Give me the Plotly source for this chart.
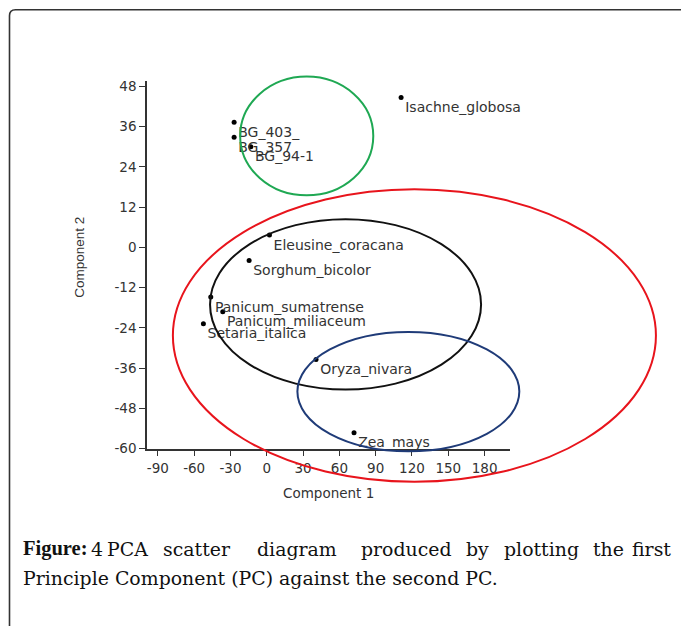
import plotly.graph_objects as go

W, H = 681, 626

# ---- data ----
species = ["Isachne_globosa", "BG_403_", "BG_357", "BG_94-1", "Eleusine_coracana",
           "Sorghum_bicolor", "Panicum_sumatrense", "Panicum_miliaceum",
           "Setaria_italica", "Oryza_nivara", "Zea_mays"]
pc1 = [111.0, -27.0, -27.0, -13.2, 2.2, -14.6, -46.3, -36.4, -52.4, 40.7, 72.1]
pc2 = [44.7, 37.3, 32.8, 30.0, 3.7, -3.9, -14.8, -19.2, -22.8, -33.4, -55.3]

x_ticks = [-90, -60, -30, 0, 30, 60, 90, 120, 150, 180]
x_tick_labels = ["-90", "-60", "-30", "0", "30", "60", "90", "120", "150", "180"]
y_ticks = [-60, -48, -36, -24, -12, 0, 12, 24, 36, 48]
y_tick_labels = ["-60", "-48", "-36", "-24", "-12", "0", "12", "24", "36", "48"]

# cluster ellipses (centre / semi-axes in data units)
ell_color = ["#1FA853", "#E8141C", "#111111", "#1F3B78"]
ell_cx = [33.0, 122.0, 65.1, 117.0]
ell_cy = [33.2, -26.3, -17.0, -43.0]
ell_rx = [55.0, 199.6, 112.0, 91.7]
ell_ry = [17.7, 43.6, 25.4, 17.8]

caption_words = ["4", "PCA", "scatter", "diagram", "produced", "by", "plotting", "the"]
caption_word_cx = [97, 127.5, 196.5, 297, 406.5, 477, 541, 608]
caption_line2 = "Principle Component (PC) against the second PC."

# ---- layout geometry (target pixels) ----
x_range = [-99, 201]
y_range = [-60, 49.6]
VS, VO = 0.9806, 4.2   # observed vertical mapping of the renderer


def vy(py):
    """target screen pixel -> figure pixel (vertical)"""
    return (py - VO) / VS


px_l, px_r = 147, 510
py_t, py_b = vy(82), vy(449)


def fx(px):
    return px / W


def fy(py):
    return 1 - vy(py) / H


def fyf(py_fig):
    return 1 - py_fig / H


sx = (px_r - px_l) / (x_range[1] - x_range[0])
sy = (py_b - py_t) / (y_range[1] - y_range[0])
x2_range = [x_range[0] - px_l / sx, x_range[0] + (W - px_l) / sx]
y2_range = [y_range[0] - (H - py_b) / sy, y_range[1] + py_t / sy]

fig = go.Figure()

fig.add_trace(go.Scatter(
    x=pc1, y=pc2, mode="markers+text", text=species,
    textposition="bottom right",
    marker=dict(color="black", size=5),
    textfont=dict(family="DejaVu Sans", size=14, color="#333333"),
    cliponaxis=False, showlegend=False, hoverinfo="text",
    xaxis="x", yaxis="y"))

# invisible full-page subplot carrying the ellipses (same scale)
fig.add_trace(go.Scatter(x=[x2_range[0]], y=[y2_range[0]], mode="markers",
                         marker=dict(opacity=0), showlegend=False,
                         hoverinfo="skip", xaxis="x2", yaxis="y2"))

shapes = []
for c, cx, cy, rx, ry in zip(ell_color, ell_cx, ell_cy, ell_rx, ell_ry):
    shapes.append(dict(type="circle", xref="x2", yref="y2",
                       x0=cx - rx, x1=cx + rx, y0=cy - ry, y1=cy + ry,
                       line=dict(color=c, width=2)))

# page frame (rounded top-left corner, runs off the right and bottom)
bx, by, r = 9.5, 11, 6
path = (f"M {fx(bx)},{fy(H + 30)} L {fx(bx)},{fy(by + r)} "
        f"Q {fx(bx)},{fy(by)} {fx(bx + r)},{fy(by)} L {fx(W + 20)},{fy(by)}")
shapes.append(dict(type="path", xref="paper", yref="paper", path=path,
                   line=dict(color="#333333", width=1.6)))

ann = []
ann.append(dict(text="Component 1", x=fx(328), y=fy(493), xref="paper", yref="paper",
                showarrow=False, xanchor="center", yanchor="middle",
                font=dict(family="DejaVu Sans", size=13.5, color="#333333")))
ann.append(dict(text="Component 2", x=fx(79.5), y=fy(258), xref="paper", yref="paper",
                showarrow=False, xanchor="center", yanchor="middle", textangle=-90,
                font=dict(family="Liberation Sans", size=13.5, color="#333333")))

cap_font = dict(family="DejaVu Serif", size=18.9, color="#111111")
line1_y, line2_y = 549, 578
ann.append(dict(text="<b>Figure:</b>", x=fx(21), y=fy(line1_y), xref="paper", yref="paper",
                showarrow=False, xanchor="left", yanchor="middle",
                font=dict(family="Liberation Serif", size=20.5, color="#111111")))
for w, cx in zip(caption_words, caption_word_cx):
    ann.append(dict(text=w, x=fx(cx), y=fy(line1_y), xref="paper", yref="paper",
                    showarrow=False, xanchor="center", yanchor="middle", font=cap_font))
ann.append(dict(text="first", x=fx(673), y=fy(line1_y), xref="paper", yref="paper",
                showarrow=False, xanchor="right", yanchor="middle", font=cap_font))
ann.append(dict(text=caption_line2, x=fx(21), y=fy(line2_y), xref="paper", yref="paper",
                showarrow=False, xanchor="left", yanchor="middle", font=cap_font))

axis_common = dict(showgrid=False, zeroline=False, showline=True, linecolor="#333333",
                   linewidth=1.6, ticks="outside", ticklen=6, tickwidth=1.4,
                   tickcolor="#333333", mirror=False, tickmode="array",
                   tickfont=dict(family="DejaVu Sans", size=13.5, color="#333333"))

fig.update_layout(
    width=W, height=H, autosize=False,
    margin=dict(l=0, r=0, t=0, b=0, pad=0),
    paper_bgcolor="white", plot_bgcolor="rgba(0,0,0,0)",
    xaxis=dict(domain=[fx(px_l), fx(px_r)], range=x_range,
               tickvals=x_ticks, ticktext=x_tick_labels, anchor="y", **axis_common),
    yaxis=dict(domain=[fyf(py_b), fyf(py_t)], range=y_range,
               tickvals=y_ticks, ticktext=y_tick_labels, anchor="x", **axis_common),
    xaxis2=dict(domain=[0, 1], range=x2_range, visible=False, anchor="y2"),
    yaxis2=dict(domain=[0, 1], range=y2_range, visible=False, anchor="x2"),
    shapes=shapes, annotations=ann, showlegend=False,
)

fig.write_html(
    "out.html",
    config={"displayModeBar": False},
    post_script=(
        "document.documentElement.style.cssText="
        "'margin:0;padding:0;overflow:hidden;height:626px;';"
        "document.body.style.cssText="
        "'margin:0;padding:0;overflow:hidden;height:626px;';"
    ),
)
